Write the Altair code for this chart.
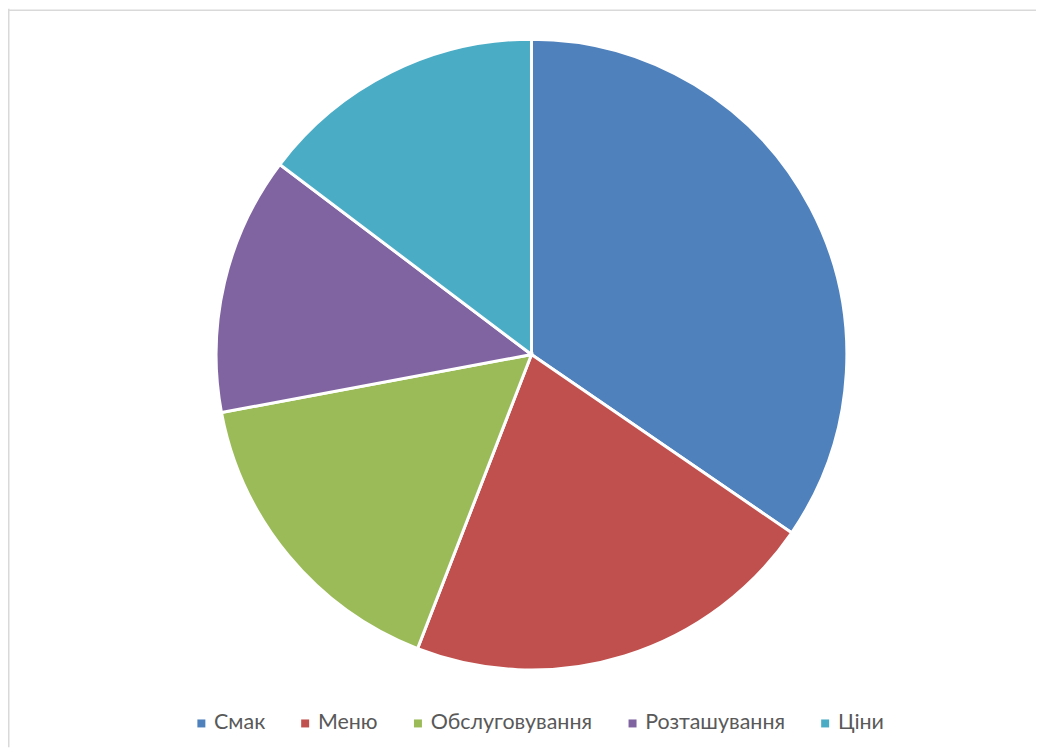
import altair as alt
import pandas as pd

categories = ["Смак", "Меню", "Обслуговування", "Розташування", "Ціни"]
values = [47, 29, 22, 18, 20]
colors = ["#4F81BD", "#C0504D", "#9BBB59", "#8064A2", "#4BACC6"]

df = pd.DataFrame({"cat": categories, "val": values, "idx": list(range(len(categories)))})

W, H = 1030, 740

pie = alt.Chart(df).mark_arc(radius=316, stroke="white", strokeWidth=3).encode(
    theta=alt.Theta("val:Q", stack=True),
    order=alt.Order("idx:Q"),
    color=alt.Color(
        "cat:N",
        scale=alt.Scale(domain=categories, range=colors),
        legend=alt.Legend(
            title=None,
            orient="none",
            legendX=183,
            legendY=705,
            direction="horizontal",
            symbolType="square",
            symbolSize=64,
            symbolStrokeWidth=0,
            labelFontSize=21.5,
            labelFont="Lato",
            labelColor="#595959",
            labelOffset=2,
            labelLimit=400,
            columnPadding=29,
        ),
    ),
    x=alt.value(524.5),
    y=alt.value(346.5),
)

dummy = pd.DataFrame({"a": [0]})
left = alt.Chart(dummy).mark_rule(color="#d9d9d9", strokeWidth=1.5).encode(
    x=alt.value(0.75), y=alt.value(0), y2=alt.value(H)
)
top = alt.Chart(dummy).mark_rule(color="#d9d9d9", strokeWidth=1.5).encode(
    x=alt.value(0), x2=alt.value(W), y=alt.value(1.5)
)

chart = alt.layer(pie, left, top).properties(
    width=W, height=H, padding=0, autosize=alt.AutoSizeParams(type="none")
).configure_view(stroke=None)

chart.save("out.html", embed_options={"renderer": "svg", "actions": False})
